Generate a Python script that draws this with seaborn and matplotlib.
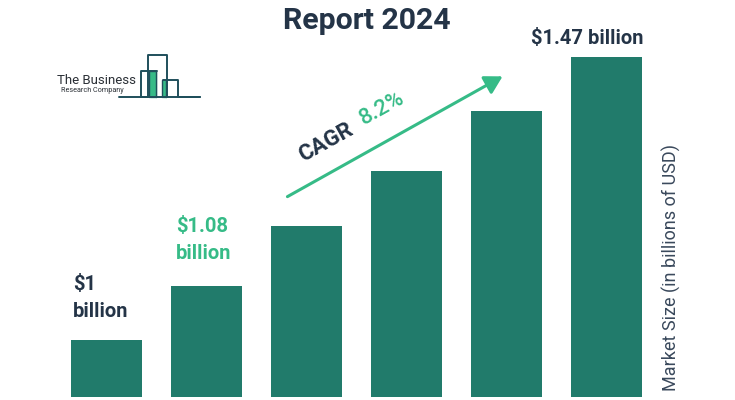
import matplotlib
matplotlib.use("Agg")
import matplotlib.pyplot as plt
import seaborn as sns
import pandas as pd
from matplotlib.patches import FancyArrowPatch

years = ["2023", "2024", "2025", "2026", "2027", "2028"]
market_size = [1.00, 1.09, 1.19, 1.28, 1.38, 1.47]
title_text = "Report 2024"
ylabel_text = "Market Size (in billions of USD)"
cagr_label = "CAGR"
cagr_value = "8.2%"

BAR = "#217b6b"
GREEN = "#36bb87"
DARK = "#243447"
LOGO = "#1f4f5b"

sns.set_theme(style="white")
plt.rcParams["font.family"] = ["Roboto", "DejaVu Sans"]

df = pd.DataFrame({"year": years, "size": market_size})

fig = plt.figure(figsize=(7.35, 4.0), dpi=100)
ax = fig.add_axes([56.5 / 735, 3 / 400, 600 / 735, 388 / 400])
sns.barplot(data=df, x="year", y="size", color=BAR, width=0.71,
            saturation=1, ax=ax, edgecolor="none")
ax.set_xlim(-0.5, 5.5)
ax.set_ylim(0.906, 0.906 + 388 / 603)
ax.set_xticks([])
ax.set_yticks([])
ax.set_xlabel("")
for s in ax.spines.values():
    s.set_visible(False)
ax.yaxis.set_label_position("right")
ax.set_ylabel(ylabel_text, fontsize=13, color="#3a495c", labelpad=4)
ax.yaxis.label.set_position((1, 0.335))

# overlay in pixel coordinates for annotations
ov = fig.add_axes([0, 0, 1, 1], facecolor="none")
ov.set_xlim(0, 735)
ov.set_ylim(400, 0)
ov.axis("off")

ov.text(367, 21, title_text, ha="center", va="center", fontsize=21.8,
        fontweight="bold", color=DARK)
ov.text(587, 38, "$1.47 billion", ha="center", va="center", fontsize=14.5,
        fontweight="bold", color=DARK)
ov.text(73, 298, "$1\nbillion", ha="left", va="center", fontsize=14.5,
        fontweight="bold", color=DARK, linespacing=1.55)
ov.text(176, 240, "$1.08\nbillion", ha="left", va="center", fontsize=14.5,
        fontweight="bold", color=GREEN, linespacing=1.55)

# CAGR arrow
arr = FancyArrowPatch((285, 198), (505, 75), arrowstyle="-|>,head_length=7,head_width=4",
                      color=GREEN, lw=2.2, mutation_scale=1.5)
ov.add_patch(arr)
ov.text(326, 143, cagr_label, ha="center", va="center", fontsize=16,
        fontweight="bold", color=DARK, rotation=29, rotation_mode="anchor")
ov.text(382, 109, cagr_value, ha="center", va="center", fontsize=16,
        fontweight="medium", color=GREEN, rotation=29, rotation_mode="anchor")

# logo
ov.text(57, 81, "The Business", ha="left", va="center", fontsize=9.5, color="#2a2f35")
ov.text(61, 90.5, "Research Company", ha="left", va="center", fontsize=5.2, color="#2a2f35")
lw = 1.4
ov.plot([119, 148, 148, 167, 167], [97, 97, 55, 55, 97], color=LOGO, lw=lw)
ov.plot([141, 141, 157], [97, 71, 71], color=LOGO, lw=lw)
ov.plot([163, 178, 178, 200], [80, 80, 97, 97], color=LOGO, lw=lw)
ov.plot([141, 200], [97, 97], color=LOGO, lw=lw)
ov.fill_between([150, 156], [71, 71], [97, 97], color=GREEN)
ov.plot([149.5, 149.5, 156.5, 156.5], [97, 71, 71, 97], color=LOGO, lw=1.0)
ov.fill_between([163, 166], [80, 80], [97, 97], color=GREEN)
ov.plot([162.5, 162.5], [80, 97], color=LOGO, lw=1.0)
ov.plot([166.5, 166.5], [80, 97], color=LOGO, lw=1.0)

fig.savefig("out.png", dpi=100)
